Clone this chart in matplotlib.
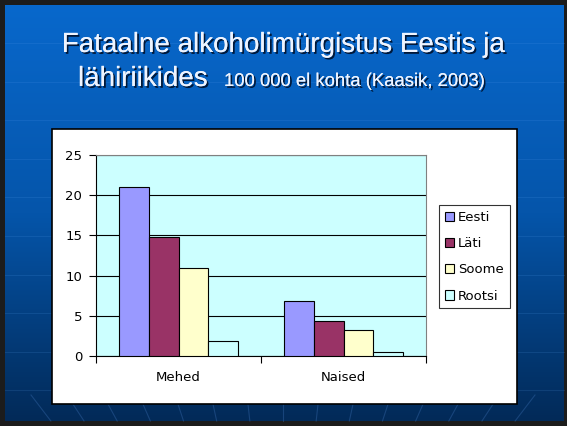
import numpy as np
import matplotlib
matplotlib.use("Agg")
import matplotlib.pyplot as plt
import matplotlib.patheffects as pe
from matplotlib.colors import LinearSegmentedColormap
from matplotlib.patches import Rectangle

# data (deaths per 100 000)
categories = ["Mehed", "Naised"]
countries = ["Eesti", "Läti", "Soome", "Rootsi"]
eesti = [21.0, 6.9]
lati = [14.75, 4.35]
soome = [10.9, 3.25]
rootsi = [1.9, 0.55]
series = [eesti, lati, soome, rootsi]
colors = ["#9999ff", "#993366", "#ffffcc", "#ccffff"]

title1 = "Fataalne alkoholimürgistus Eestis ja"
title2 = "lähiriikides"
subtitle = "100 000 el kohta (Kaasik, 2003)"

plt.rcParams["font.family"] = ["Liberation Sans", "DejaVu Sans"]
chart_font = ["DejaVu Sans"]

fig = plt.figure(figsize=(5.67, 4.26), dpi=100)
fig.patch.set_facecolor("#1c1c1c")

# slide background in pixel coordinates
bg = fig.add_axes([0, 0, 1, 1])
cmap = LinearSegmentedColormap.from_list("slide", ["#0868cc", "#0555aa", "#022a58"])
grad = np.linspace(0, 1, 256).reshape(-1, 1)
bg.imshow(grad, cmap=cmap, extent=(5, 564, 421, 5), aspect="auto")
bg.set_xlim(0, 567)
bg.set_ylim(426, 0)
bg.axis("off")

for y in np.arange(43, 400, 38.6):
    bg.plot([5, 564], [y, y], color="#5aa0f0", alpha=0.15, lw=0.8)
for k in range(-7, 8):
    xb = 283 + 36 * k
    xe = xb + (421 - 395) * (283 - xb) / (725 - 395)
    bg.plot([xb, xe], [395, 421], color="#4a80c8", alpha=0.3, lw=0.8)

bg.add_patch(Rectangle((52, 129), 465, 275, facecolor="white",
                       edgecolor="black", lw=1.2, zorder=5))

shadow = [pe.withSimplePatchShadow(offset=(1.3, -1.3), shadow_rgbFace="#00102a", alpha=0.9),
          pe.Normal()]
bg.text(283, 52, title1, ha="center", va="baseline", fontsize=20,
        color="#eef4ff", path_effects=shadow)
bg.text(78, 86, title2, ha="left", va="baseline", fontsize=20,
        color="#eef4ff", path_effects=shadow)
bg.text(224, 86, subtitle, ha="left", va="baseline", fontsize=13.3,
        color="#eef4ff", path_effects=shadow)

# chart
ax = fig.add_axes([96 / 567, 70 / 426, 330 / 567, 201 / 426])
ax.set_facecolor("#ccffff")
x = np.arange(len(categories))
width = 0.725 / len(countries)
for i, (name, vals, c) in enumerate(zip(countries, series, colors)):
    ax.bar(x + (i - 1.5) * width, vals, width, color=c, edgecolor="black",
           lw=0.8, label=name, zorder=3)

ax.set_xlim(-0.5, 1.5)
ax.set_ylim(0, 25)
ax.set_yticks(np.arange(0, 26, 5))
ax.yaxis.grid(True, color="black", lw=0.8)
ax.set_axisbelow(True)

ax.set_xticks([-0.5, 0.5, 1.5])
ax.set_xticklabels([])
ax.set_xticks(x, minor=True)
ax.set_xticklabels(categories, minor=True, family=chart_font)
for lbl in ax.get_yticklabels():
    lbl.set_family(chart_font)
ax.tick_params(axis="x", which="major", length=5, direction="out")
ax.tick_params(axis="x", which="minor", length=0, pad=11, labelsize=9.5)
ax.tick_params(axis="y", length=5, direction="out", pad=5, labelsize=9.5)

for s in ["top", "right"]:
    ax.spines[s].set_color("#808080")
for s in ["left", "bottom"]:
    ax.spines[s].set_color("black")

leg = fig.legend(loc="upper left", bbox_to_anchor=(439 / 567, 1 - 205 / 426),
                 prop={"family": chart_font, "size": 9.5}, frameon=True,
                 fancybox=False, edgecolor="black",
                 handlelength=0.7, handleheight=0.7, handletextpad=0.3,
                 labelspacing=1.0, borderpad=0.45, borderaxespad=0)
leg.get_frame().set_linewidth(0.8)

fig.savefig("out.png", dpi=100, facecolor=fig.get_facecolor())
